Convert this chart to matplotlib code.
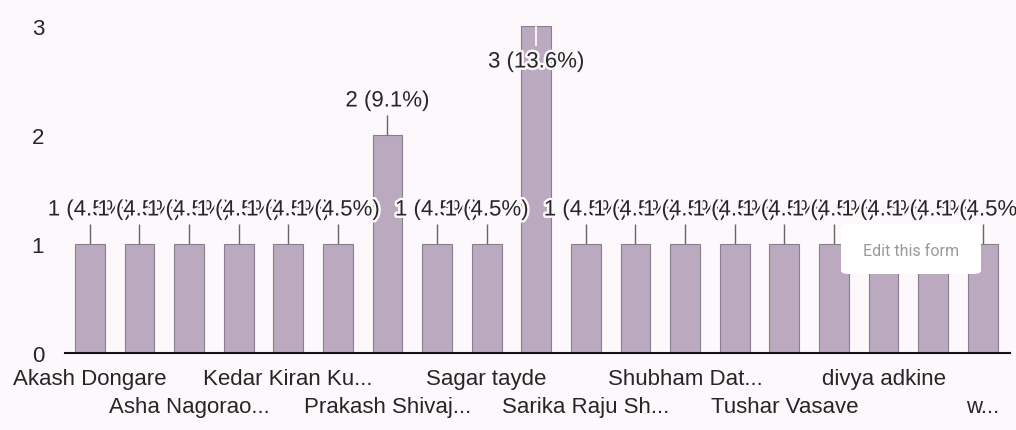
import matplotlib
matplotlib.use("Agg")
import matplotlib.pyplot as plt
import matplotlib.patheffects as pe
from matplotlib.patches import FancyBboxPatch

# Responses per person (19 bars); only every second name is printed on the axis
counts = [1, 1, 1, 1, 1, 1, 2, 1, 1, 3, 1, 1, 1, 1, 1, 1, 1, 1, 1]
axis_names = ["Akash Dongare", "Asha Nagorao...", "Kedar Kiran Ku...",
              "Prakash Shivaj...", "Sagar tayde", "Sarika Raju Sh...",
              "Shubham Dat...", "Tushar Vasave", "divya adkine", "w..."]
y_ticks = [0, 1, 2, 3]

BG = "#fcf8fc"
BAR = "#bbaabf"
BAR_EDGE = "#8a7e8e"
TEXT = "#262626"
FONT = "Liberation Sans"
FS = 16

plt.rcParams["font.family"] = [FONT, "DejaVu Sans"]

fig = plt.figure(figsize=(10.16, 4.31), dpi=100, facecolor=BG)
W, H = 1016, 431
ax = fig.add_axes([65 / W, (H - 354) / H, (1010 - 65) / W, (354 - 27) / H])
ax.set_facecolor(BG)

n = len(counts)
xs = list(range(n))
total = sum(counts)

ax.bar(xs, counts, width=0.6, color=BAR, edgecolor=BAR_EDGE, linewidth=0.8, zorder=2)

ax.set_xlim(-0.5, n - 0.45)
ax.set_ylim(0, 3)
ax.set_yticks(y_ticks)
ax.set_yticklabels([str(t) for t in y_ticks], fontsize=FS, color=TEXT)
ax.tick_params(axis="y", length=0, pad=15)

for s in ["top", "right", "left"]:
    ax.spines[s].set_visible(False)
ax.spines["bottom"].set_color("#111111")
ax.spines["bottom"].set_linewidth(1.5)
ax.spines["bottom"].set_zorder(3)

label_pos = xs[::2]
ax.set_xticks(label_pos)
ax.set_xticklabels(axis_names, fontsize=FS, color=TEXT)
ax.tick_params(axis="x", length=0)
for i, tick in enumerate(ax.xaxis.get_major_ticks()):
    tick.set_pad(11 if i % 2 == 0 else 31)

# value annotations with a short leader line
halo = [pe.withStroke(linewidth=3.5, foreground=BG)]
px = 3.0 / (354 - 27)  # data units per pixel vertically
for i, v in enumerate(counts):
    txt = f"{v} ({v / total * 100:.1f}%)"
    if v >= max(y_ticks):
        # no room above: label sits inside the bar, leader in white
        ax.plot([i, i], [v, v - 20 * px], color="white", lw=1.2, zorder=5 + i,
                solid_capstyle="butt")
        ax.text(i, v - 36 * px, txt, ha="center", va="center", fontsize=FS,
                color=TEXT, zorder=6 + i, path_effects=halo, clip_on=False)
    else:
        ax.plot([i, i], [v, v + 20 * px], color="#666666", lw=1.0, zorder=5 + i,
                solid_capstyle="butt")
        ax.text(i, v + 34 * px, txt, ha="center", va="center", fontsize=FS,
                color=TEXT, zorder=6 + i, path_effects=halo, clip_on=False)

# floating form button
bx0, by0, bx1, by1 = 841, 225, 981, 275
box = FancyBboxPatch((bx0 / W, (H - by1) / H), (bx1 - bx0) / W, (by1 - by0) / H,
                     boxstyle="round,pad=0,rounding_size=0.008",
                     transform=fig.transFigure, facecolor="white",
                     edgecolor="none", zorder=50)
fig.add_artist(box)
fig.text((bx0 + bx1) / 2 / W, (H - 252) / H, "Edit this form",
         ha="center", va="center", fontsize=11.5, color="#9a9a9a",
         family=["Roboto", "DejaVu Sans"], zorder=51)

fig.savefig("out.png", dpi=100, facecolor=BG)
